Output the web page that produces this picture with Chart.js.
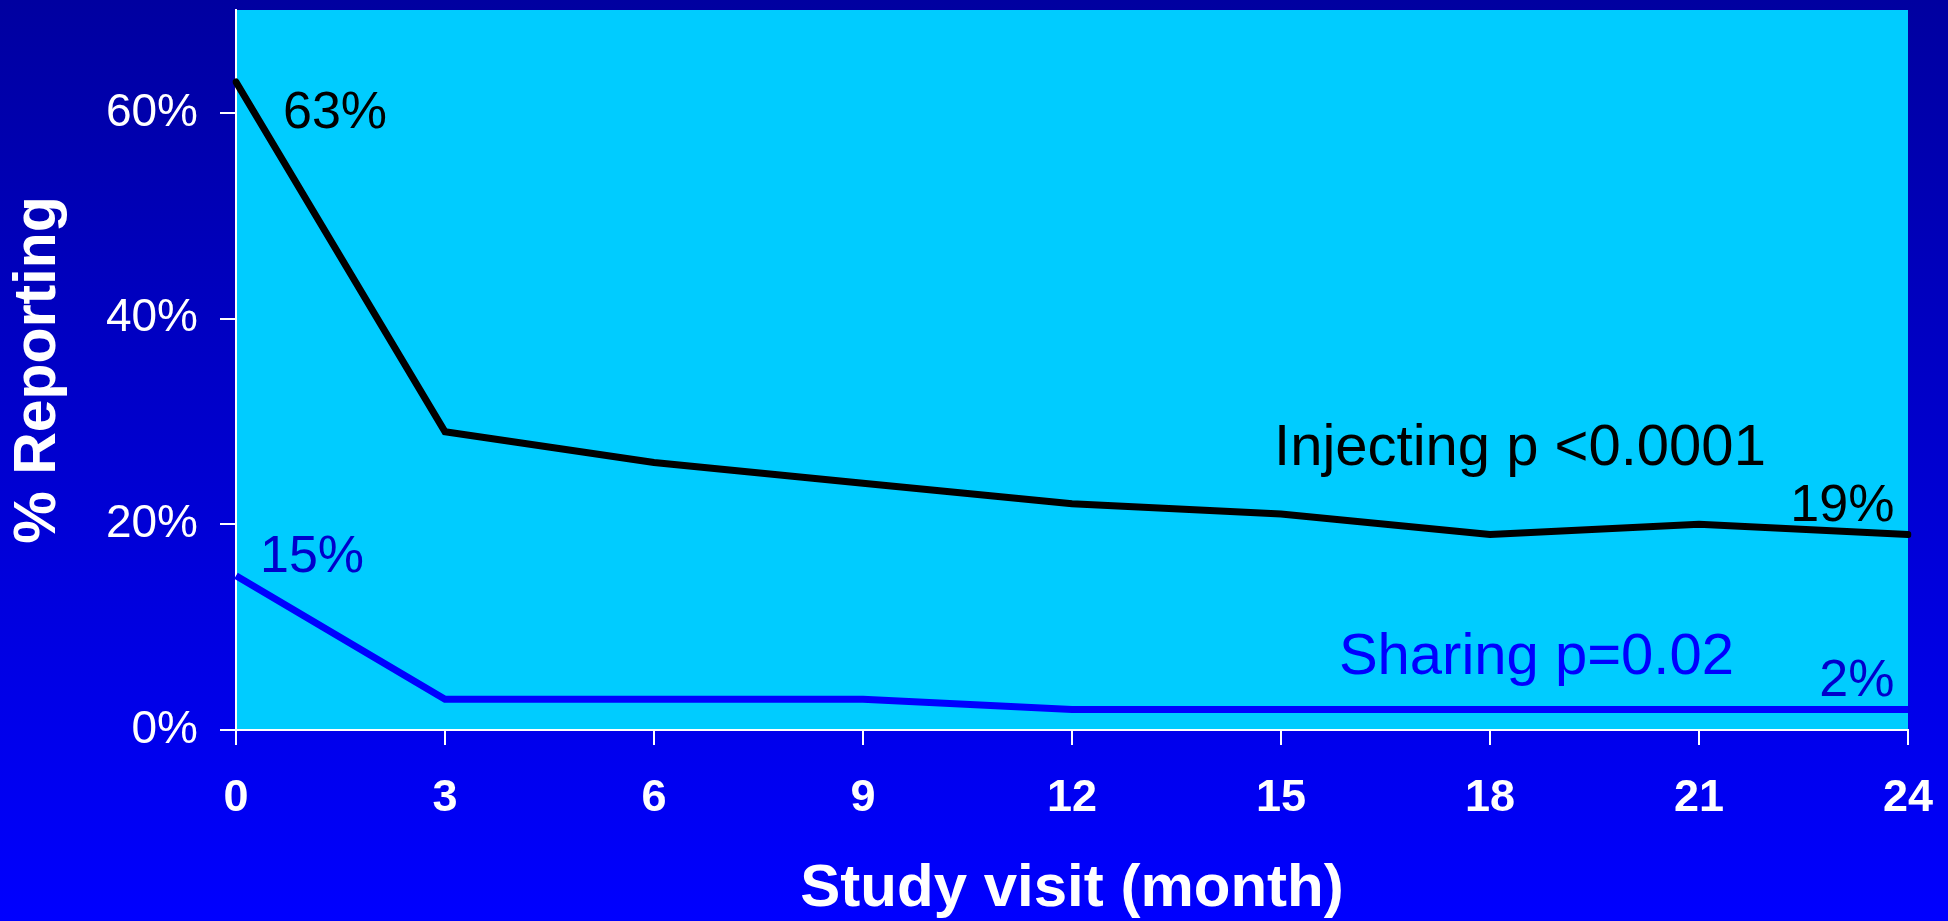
<!DOCTYPE html>
<html>
<head>
<meta charset="utf-8">
<script src="https://cdn.jsdelivr.net/npm/chart.js@4/dist/chart.umd.min.js"></script>
<style>
  html, body { margin: 0; padding: 0; background: #0000ff; }
  canvas { display: block; }
</style>
</head>
<body>
<canvas id="chart" width="1948" height="921"></canvas>
<script>
// Study visits (months) and share of participants reporting each behaviour
const months = ['0', '3', '6', '9', '12', '15', '18', '21', '24'];
const injecting = [63, 29, 26, 24, 22, 21, 19, 20, 19];
const sharing = [15, 3, 3, 3, 2, 2, 2, 2, 2];
const yTicks = [0, 20, 40, 60];
const yMax = 70;

const FONT = '"Liberation Sans", Arial, Helvetica, sans-serif';

// Text notes anchored in data space: [category index, percent] at the text baseline
const notes = [
  { text: injecting[0] + '%', at: [0.225, 58.5], align: 'left', color: '#000000', size: 52 },
  { text: injecting[8] + '%', at: [7.935, 20.3], align: 'right', color: '#000000', size: 52 },
  { text: 'Injecting p <0.0001', at: [4.967, 25.76], align: 'left', color: '#000000', size: 58 },
  { text: sharing[0] + '%', at: [0.115, 15.4], align: 'left', color: '#0000cc', size: 52 },
  { text: sharing[8] + '%', at: [7.935, 3.3], align: 'right', color: '#0000cc', size: 52 },
  { text: 'Sharing p=0.02', at: [5.277, 5.45], align: 'left', color: '#0000ff', size: 58 }
];

const backdrop = {
  id: 'backdrop',
  beforeDraw(chart) {
    const { ctx, width, height, chartArea } = chart;
    ctx.save();
    const g = ctx.createLinearGradient(0, 0, 0, height);
    g.addColorStop(0, '#0000a0');
    g.addColorStop(1, '#0000ff');
    ctx.fillStyle = g;
    ctx.fillRect(0, 0, width, height);
    ctx.fillStyle = '#00ccff';
    ctx.fillRect(chartArea.left, chartArea.top, chartArea.right - chartArea.left, chartArea.bottom - chartArea.top);
    ctx.restore();
  }
};

const noteLabels = {
  id: 'noteLabels',
  afterDatasetsDraw(chart) {
    const { ctx, scales } = chart;
    ctx.save();
    ctx.textBaseline = 'alphabetic';
    notes.forEach(n => {
      ctx.font = n.size + 'px ' + FONT;
      ctx.fillStyle = n.color;
      ctx.textAlign = n.align;
      ctx.fillText(n.text, scales.x.getPixelForValue(n.at[0]), scales.y.getPixelForValue(n.at[1]));
    });
    ctx.restore();
  }
};

new Chart(document.getElementById('chart'), {
  type: 'line',
  data: {
    labels: months,
    datasets: [
      {
        label: 'Injecting',
        data: injecting,
        borderColor: '#000000',
        borderWidth: 7,
        pointRadius: 0,
        borderCapStyle: 'round',
        tension: 0
      },
      {
        label: 'Sharing',
        data: sharing,
        borderColor: '#0000ff',
        borderWidth: 7,
        pointRadius: 0,
        borderCapStyle: 'butt',
        tension: 0
      }
    ]
  },
  options: {
    responsive: false,
    animation: false,
    layout: { padding: { top: 10, right: 40, left: 0, bottom: 0 } },
    plugins: { legend: { display: false }, tooltip: { enabled: false } },
    scales: {
      x: {
        offset: false,
        grid: { drawOnChartArea: false, color: '#ffffff', lineWidth: 2, tickLength: 15 },
        border: { color: '#ffffff', width: 2 },
        ticks: { color: '#ffffff', font: { family: FONT, size: 45, weight: 'bold' }, padding: 27, maxRotation: 0, autoSkip: false },
        title: {
          display: true, text: 'Study visit (month)', color: '#ffffff',
          font: { family: FONT, size: 60, weight: 'bold', lineHeight: 1 },
          padding: { top: 0, bottom: 2 }
        },
        afterFit(scale) {
          scale.height = 191;
          scale.paddingLeft = 0;
          scale.paddingRight = 0;
        }
      },
      y: {
        min: 0,
        max: yMax,
        grid: { drawOnChartArea: false, color: '#ffffff', lineWidth: 2, tickLength: 16 },
        border: { color: '#ffffff', width: 2 },
        ticks: {
          color: '#ffffff', font: { family: FONT, size: 46 }, padding: 22,
          callback: v => v + '%'
        },
        afterBuildTicks(scale) { scale.ticks = yTicks.map(v => ({ value: v })); },
        title: {
          display: true, text: '% Reporting', color: '#ffffff',
          font: { family: FONT, size: 59, weight: 'bold', lineHeight: 1 },
          padding: { top: 9, bottom: 0 }
        },
        afterFit(scale) {
          scale.width = 236;
          scale.paddingTop = 0;
          scale.paddingBottom = 0;
        }
      }
    }
  },
  plugins: [backdrop, noteLabels]
});
</script>
</body>
</html>
